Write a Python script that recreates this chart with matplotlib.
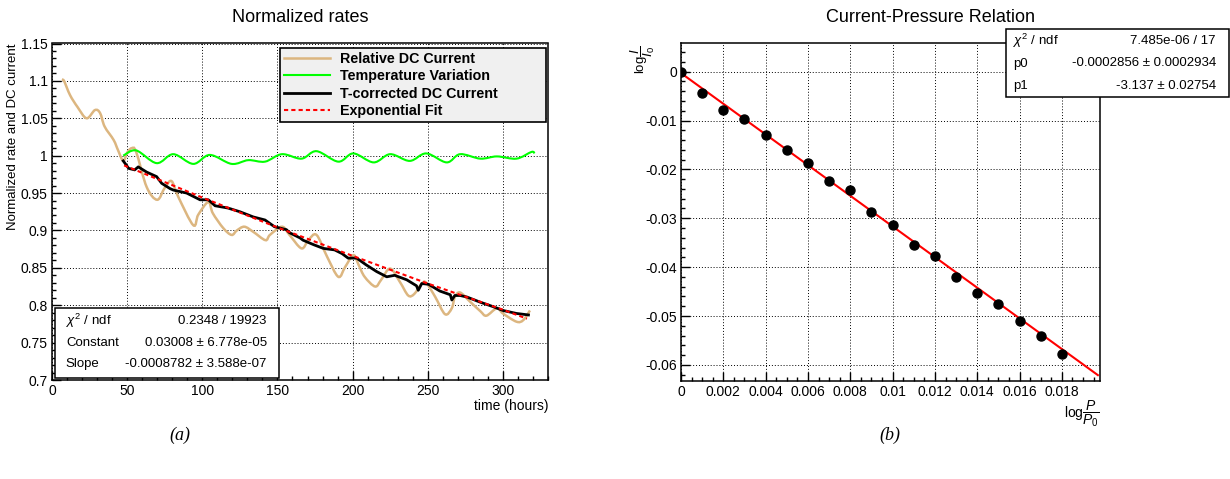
import matplotlib
matplotlib.use('Agg')
import matplotlib.pyplot as plt
from matplotlib.ticker import MultipleLocator, FuncFormatter
from matplotlib.patches import Rectangle, PathPatch
from matplotlib.path import Path
from matplotlib.lines import Line2D

plt.rcParams['font.family'] = ['Liberation Sans', 'DejaVu Sans']
plt.rcParams['mathtext.fontset'] = 'custom'
plt.rcParams['mathtext.rm'] = 'Liberation Sans'
plt.rcParams['mathtext.it'] = 'Liberation Sans:italic'
plt.rcParams['mathtext.bf'] = 'Liberation Sans:bold'

# ---- (a) normalized rates ----
dc_t = [7, 8, 12, 17, 23, 28.6, 32, 35, 41, 44, 47.4, 50, 53, 56, 63, 70, 75, 79.5, 84, 94,
        97.3, 104, 107, 114, 119.5, 123, 128, 134, 142, 145, 153, 158, 166, 170.5, 176, 183,
        190.5, 195, 200.5, 204, 208, 215, 219, 225, 231.5, 237, 241, 246, 249, 255, 261.5,
        266, 268, 271.5, 278, 285, 289, 296, 300, 309, 313.5, 318]
dc_v = [1.1, 1.1, 1.081, 1.065, 1.05, 1.061, 1.057, 1.039, 1.021, 1.007, 0.993, 1.004, 1.010,
        1.005, 0.958, 0.941, 0.957, 0.966, 0.945, 0.907, 0.921, 0.938, 0.923, 0.903, 0.894,
        0.9, 0.905, 0.898, 0.887, 0.894, 0.905, 0.894, 0.876, 0.887, 0.894, 0.865, 0.838,
        0.851, 0.867, 0.854, 0.838, 0.825, 0.834, 0.849, 0.831, 0.813, 0.815, 0.829, 0.83,
        0.811, 0.788, 0.796, 0.811, 0.817, 0.805, 0.792, 0.786, 0.796, 0.789, 0.778, 0.78, 0.793]

temp_t = [47.4, 56, 69.6, 80.7, 94, 105, 119.5, 130.6, 141.7, 153, 166, 176, 190.5, 200.5,
          214, 225, 238, 249, 262.6, 271.5, 285, 296, 309, 319, 321]
temp_v = [1.0, 1.007, 0.99, 1.002, 0.989, 1.001, 0.989, 0.994, 0.992, 1.002, 0.996, 1.006,
          0.992, 1.003, 0.991, 1.002, 0.993, 1.003, 0.991, 1.002, 0.996, 0.999, 0.996, 1.005, 1.003]

corr_t = [47.4, 51, 55, 57.4, 63, 69.6, 73, 78.5, 80.7, 89.6, 98.5, 104, 108.5, 117, 125, 134,
          141.7, 148, 156, 158, 165, 167, 174, 180.5, 188, 193, 197, 202.7, 209, 216, 222.7,
          228, 236, 242.5, 243.7, 246, 250.5, 258, 265, 266, 268, 271.5, 276, 285, 293.6,
          300, 309, 317]
corr_v = [0.993, 0.983, 0.981, 0.985, 0.978, 0.972, 0.963, 0.956, 0.954, 0.95, 0.941, 0.941,
          0.933, 0.93, 0.925, 0.918, 0.914, 0.905, 0.901, 0.897, 0.89, 0.887, 0.881, 0.876,
          0.874, 0.869, 0.863, 0.863, 0.854, 0.845, 0.838, 0.84, 0.834, 0.826, 0.82, 0.829,
          0.828, 0.819, 0.814, 0.807, 0.813, 0.813, 0.811, 0.804, 0.798, 0.793, 0.789, 0.787]

fit_t = [48, 100, 150, 200, 250, 300, 316]
fit_v = [0.987, 0.944, 0.904, 0.866, 0.829, 0.794, 0.782]

legend_labels = ['Relative DC Current', 'Temperature Variation',
                 'T-corrected DC Current', 'Exponential Fit']

stats_a = [(r'$\chi^{2}$ / ndf', '0.2348 / 19923'),
           ('Constant', '0.03008 ± 6.778e-05'),
           ('Slope', '-0.0008782 ± 3.588e-07')]

# ---- (b) current-pressure relation ----
logp = [0, 0.001, 0.002, 0.003, 0.004, 0.005, 0.006, 0.007, 0.008, 0.009,
        0.010, 0.011, 0.012, 0.013, 0.014, 0.015, 0.016, 0.017, 0.018]
logi = [0, -0.0044, -0.0079, -0.0097, -0.0129, -0.016, -0.0187, -0.0223, -0.0242, -0.0288,
        -0.0314, -0.0355, -0.0378, -0.042, -0.0452, -0.0475, -0.0511, -0.054, -0.0578]
line_x = [0, 0.0197]
line_y = [-0.0003, -0.0621]

stats_b = [(r'$\chi^{2}$ / ndf', '7.485e-06 / 17'),
           ('p0', '-0.0002856 ± 0.0002934'),
           ('p1', '-3.137 ± 0.02754')]

W, H = 1230, 479
fig = plt.figure(figsize=(W / 100, H / 100), dpi=100)
ax1 = fig.add_axes([52 / W, 1 - 380 / H, 496 / W, 336.5 / H])
ax2 = fig.add_axes([681 / W, 1 - 381 / H, 419 / W, 337.7 / H])

fmt = FuncFormatter(lambda v, p: '%g' % round(v, 6))


def smooth(xs, ys):
    # smooth curve through the read points (catmull-rom as cubic bezier)
    pts = list(zip(xs, ys))
    verts = [pts[0]]
    codes = [Path.MOVETO]
    for i in range(len(pts) - 1):
        p0 = pts[i - 1] if i > 0 else pts[i]
        p1, p2 = pts[i], pts[i + 1]
        p3 = pts[i + 2] if i + 2 < len(pts) else pts[i + 1]
        c1 = (p1[0] + (p2[0] - p0[0]) / 6, p1[1] + (p2[1] - p0[1]) / 6)
        c2 = (p2[0] - (p3[0] - p1[0]) / 6, p2[1] - (p3[1] - p1[1]) / 6)
        verts += [c1, c2, p2]
        codes += [Path.CURVE4] * 3
    return Path(verts, codes)


def style(ax):
    ax.set_axisbelow(True)
    ax.grid(True, which='major', ls=(0, (1, 2)), color='black', lw=0.7)
    ax.tick_params(which='both', direction='in', top=False, right=False,
                   labelsize=10, width=1, pad=3)
    ax.tick_params(which='major', length=6.5)
    ax.tick_params(which='minor', length=3.2)
    ax.xaxis.set_major_formatter(fmt)
    ax.yaxis.set_major_formatter(fmt)
    for s in ax.spines.values():
        s.set_linewidth(1.1)


# (a)
c_dc, c_temp, c_fit = '#dcb680', '#00ff00', '#ff0000'
ax1.add_patch(PathPatch(smooth(dc_t, dc_v), fill=False, edgecolor=c_dc, lw=1.8))
ax1.add_patch(PathPatch(smooth(temp_t, temp_v), fill=False, edgecolor=c_temp, lw=1.5))
ax1.plot(corr_t, corr_v, color='black', lw=2.0)
ax1.plot(fit_t, fit_v, color=c_fit, lw=1.5, dashes=(2, 1.5))
ax1.set_xlim(0, 330)
ax1.set_ylim(0.7, 1.15)
ax1.xaxis.set_major_locator(MultipleLocator(50))
ax1.xaxis.set_minor_locator(MultipleLocator(10))
ax1.yaxis.set_major_locator(MultipleLocator(0.05))
ax1.yaxis.set_minor_locator(MultipleLocator(0.01))
style(ax1)

handles = [Line2D([], [], color=c_dc, lw=1.8),
           Line2D([], [], color=c_temp, lw=1.5),
           Line2D([], [], color='black', lw=2.0),
           Line2D([], [], color=c_fit, lw=1.5, dashes=(2, 1.5))]
leg = ax1.legend(handles, legend_labels, loc='upper left',
                 bbox_to_anchor=(0.4597, 0.75, 0.536, 0.2366), mode='expand',
                 prop={'weight': 'bold', 'size': 10.3}, handlelength=3.2, handletextpad=0.7,
                 borderpad=0.3, labelspacing=0.22, borderaxespad=0, fancybox=False,
                 framealpha=1, facecolor='#f0f0f0', edgecolor='black')
leg.get_frame().set_linewidth(1.2)

ax1.add_patch(Rectangle((0.006, 0.006), 0.452, 0.208, transform=ax1.transAxes,
                        facecolor='white', edgecolor='black', lw=1.1, zorder=5))
for i, (name, val) in enumerate(stats_a):
    y = 0.175 - i * 0.064
    ax1.text(0.028, y, name, transform=ax1.transAxes, ha='left', va='center',
             fontsize=9.5, zorder=6)
    ax1.text(0.433, y, val, transform=ax1.transAxes, ha='right', va='center',
             fontsize=9.5, zorder=6)

fig.text(300 / W, 1 - 17 / H, 'Normalized rates', ha='center', va='center', fontsize=13)
ax1.text(-0.079, 1.0, 'Normalized rate and DC current', transform=ax1.transAxes,
         rotation=90, ha='center', va='top', fontsize=9.5)
ax1.text(1.0, -0.076, 'time (hours)', transform=ax1.transAxes, ha='right', va='center',
         fontsize=10)

# (b)
ax2.plot(line_x, line_y, color='#ff0000', lw=1.5)
ax2.plot(logp, logi, 'o', color='black', ms=6.5)
ax2.set_xlim(0, 0.0198)
ax2.set_ylim(-0.0633, 0.0058)
ax2.xaxis.set_major_locator(MultipleLocator(0.002))
ax2.xaxis.set_minor_locator(MultipleLocator(0.0005))
ax2.yaxis.set_major_locator(MultipleLocator(0.01))
ax2.yaxis.set_minor_locator(MultipleLocator(0.002))
style(ax2)

fig.text(931 / W, 1 - 17 / H, 'Current-Pressure Relation', ha='center', va='center',
         fontsize=13)
ax2.text(-0.09, 0.995, r'log$\dfrac{I}{I_0}$', transform=ax2.transAxes, rotation=90,
         ha='center', va='top', fontsize=9.5)
ax2.text(1.0, -0.098, r'log$\dfrac{P}{P_0}$', transform=ax2.transAxes, ha='right',
         va='center', fontsize=10)

fig.patches.append(Rectangle((1006 / W, 1 - 97 / H), 223 / W, 68 / H, transform=fig.transFigure,
                             facecolor='white', edgecolor='black', lw=1.1, zorder=5))
for i, (name, val) in enumerate(stats_b):
    y = 1 - (41 + i * 22.5) / H
    fig.text(1013 / W, y, name, ha='left', va='center', fontsize=9.5, zorder=6)
    fig.text(1216 / W, y, val, ha='right', va='center', fontsize=9.5, zorder=6)

fig.text(180 / W, 1 - 435 / H, '(a)', ha='center', va='center', fontsize=13,
         family='Liberation Serif', style='italic')
fig.text(890 / W, 1 - 435 / H, '(b)', ha='center', va='center', fontsize=13,
         family='Liberation Serif', style='italic')

fig.savefig('out.png', dpi=100, facecolor='white')
